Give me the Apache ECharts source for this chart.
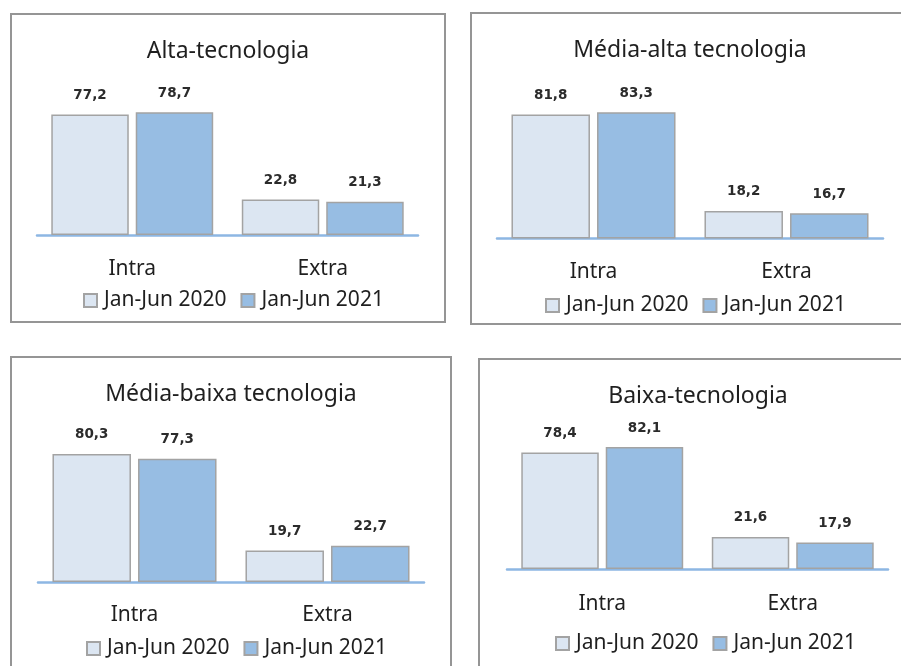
<!DOCTYPE html>
<html>
<head>
<meta charset="utf-8">
<script src="https://cdn.jsdelivr.net/npm/echarts@6/dist/echarts.min.js"></script>
<style>
  html, body { margin:0; padding:0; width:901px; height:666px; overflow:hidden; background:#fff; }
  .chart { position:absolute; }
  .frame { position:absolute; box-sizing:border-box; border:2px solid #959595; pointer-events:none; }
</style>
</head>
<body>
<script>
// ---- data ----
const categories = ['Intra', 'Extra'];
const seriesNames = ['Jan-Jun 2020', 'Jan-Jun 2021'];
const titles = ['Alta-tecnologia', 'Média-alta tecnologia', 'Média-baixa tecnologia', 'Baixa-tecnologia'];
const alta2020 = [77.2, 22.8];
const alta2021 = [78.7, 21.3];
const mediaAlta2020 = [81.8, 18.2];
const mediaAlta2021 = [83.3, 16.7];
const mediaBaixa2020 = [80.3, 19.7];
const mediaBaixa2021 = [77.3, 22.7];
const baixa2020 = [78.4, 21.6];
const baixa2021 = [82.1, 17.9];

// ---- layout (positions / sizes only) ----
const panels = [
  { L:10,  T:13,  W:436, H:310, grid:{left:27, width:381, top:66,   height:156},   legendLeft:68, legendTop:272, labelMargin:24, data:[alta2020, alta2021] },
  { L:470, T:12,  W:440, H:313, grid:{left:27, width:386, top:75,   height:151.5}, legendLeft:70, legendTop:278, labelMargin:23, data:[mediaAlta2020, mediaAlta2021] },
  { L:10,  T:356, W:442, H:330, grid:{left:28, width:386, top:66.5, height:159.5}, legendLeft:71, legendTop:277, labelMargin:23, data:[mediaBaixa2020, mediaBaixa2021] },
  { L:478, T:358, W:440, H:330, grid:{left:29, width:381, top:62.5, height:148.5}, legendLeft:72, legendTop:270, labelMargin:25, data:[baixa2020, baixa2021] }
];

const fills = ['#DCE6F2', '#97BDE3'];
const font = '"Noto Sans", "Open Sans", sans-serif';

panels.forEach((p, i) => {
  const div = document.createElement('div');
  div.className = 'chart';
  div.style.left = p.L + 'px'; div.style.top = p.T + 'px';
  div.style.width = p.W + 'px'; div.style.height = p.H + 'px';
  document.body.appendChild(div);
  const frame = document.createElement('div');
  frame.className = 'frame';
  frame.style.left = p.L + 'px'; frame.style.top = p.T + 'px';
  frame.style.width = p.W + 'px'; frame.style.height = p.H + 'px';
  document.body.appendChild(frame);

  const chart = echarts.init(div, null, { renderer: 'canvas' });
  chart.setOption({
    animation: false,
    title: {
      text: titles[i], left: 'center', top: 22,
      textStyle: { fontFamily: font, fontSize: 23, fontWeight: 'normal', color: '#1f1f1f' }
    },
    legend: {
      left: p.legendLeft, top: p.legendTop,
      icon: 'rect', itemWidth: 13, itemHeight: 13, itemGap: 14,
      textStyle: { fontFamily: font, fontSize: 21, color: '#1f1f1f', padding: [0, 0, 0, 2] },
      data: seriesNames
    },
    grid: p.grid,
    xAxis: {
      type: 'category', data: categories,
      axisLine: { lineStyle: { color: '#8DB7E3', width: 2.5 } },
      axisTick: { show: false },
      axisLabel: { fontFamily: font, fontSize: 21, color: '#1f1f1f', margin: p.labelMargin }
    },
    yAxis: { type: 'value', min: 0, max: 100, show: false, splitLine: { show: false } },
    series: seriesNames.map((name, k) => ({
      name: name, type: 'bar', data: p.data[k],
      barCategoryGap: '15%', barGap: '9%',
      itemStyle: { color: fills[k], borderColor: '#A3A3A3', borderWidth: 1.5 },
      label: {
        show: true, position: 'top', distance: 12,
        fontFamily: '"DejaVu Sans", Verdana, sans-serif', fontSize: 13.5, fontWeight: 'bold', color: '#2b2b2b',
        formatter: (d) => String(d.value).replace('.', ',')
      }
    }))
  });
});
</script>
</body>
</html>
